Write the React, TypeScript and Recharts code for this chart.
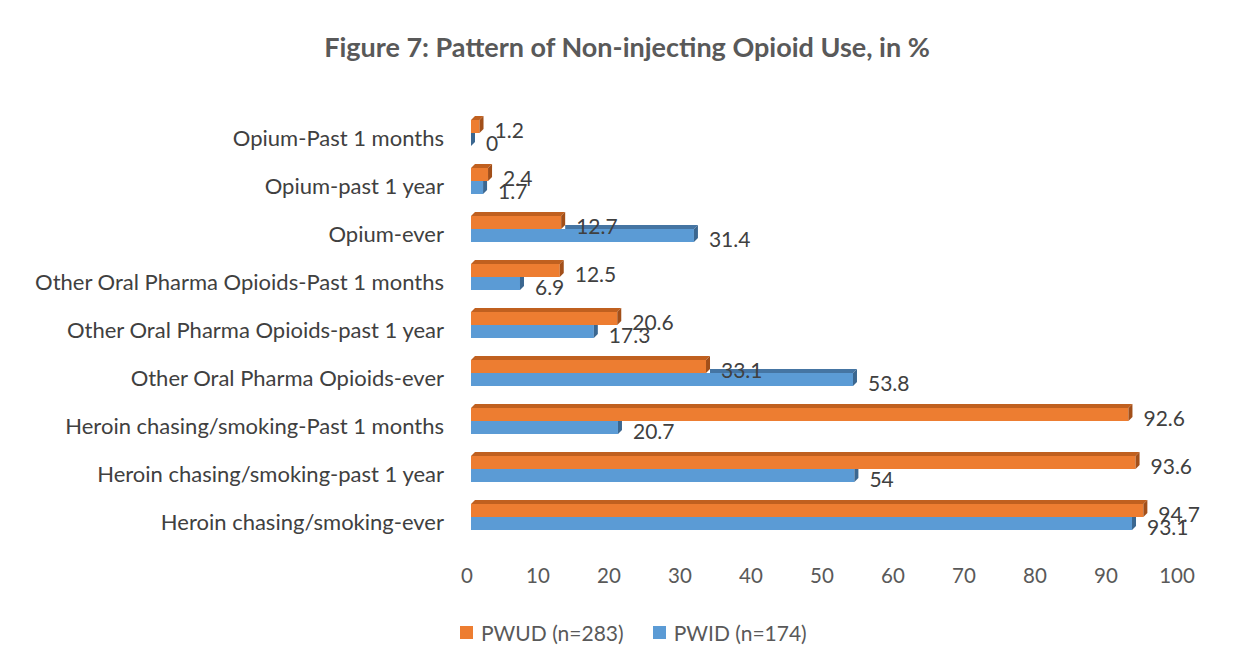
import { BarChart, Bar, XAxis, YAxis, Legend, LabelList } from 'recharts'

const categories = [
  'Opium-Past 1 months',
  'Opium-past 1 year',
  'Opium-ever',
  'Other Oral Pharma Opioids-Past 1 months',
  'Other Oral Pharma Opioids-past 1 year',
  'Other Oral Pharma Opioids-ever',
  'Heroin chasing/smoking-Past 1 months',
  'Heroin chasing/smoking-past 1 year',
  'Heroin chasing/smoking-ever'
]
const pwud = [1.2, 2.4, 12.7, 12.5, 20.6, 33.1, 92.6, 93.6, 94.7]
const pwid = [0, 1.7, 31.4, 6.9, 17.3, 53.8, 20.7, 54, 93.1]
const xTicks = [0, 10, 20, 30, 40, 50, 60, 70, 80, 90, 100]
const seriesNames = ['PWUD (n=283)', 'PWID (n=174)']

const data = categories.map((name, i) => ({ name, pwud: pwud[i], pwid: pwid[i] }))

const FONT = 'Lato, "Open Sans", sans-serif'
const D = 4
const ORANGE = '#ED7D31'
const BLUE = '#5B9BD5'

// front face + top face + right side, like the excel 3d bar
const OrangeBar = (props: any) => {
  const { x, y, width, height } = props
  return (
    <g>
      <rect x={x} y={y} width={width} height={height} fill={ORANGE} />
      <polygon
        points={`${x},${y} ${x + D},${y - D} ${x + width + D},${y - D} ${x + width},${y}`}
        fill="#c0601f"
      />
      <polygon
        points={`${x + width},${y} ${x + width + D},${y - D} ${x + width + D},${y + height - D} ${x + width},${y + height}`}
        fill="#a24f19"
      />
    </g>
  )
}

// blue sits behind the orange one, so only draw the parts that stick out
const BlueBar = (props: any) => {
  const { x, y, width, height, payload } = props
  const value = payload.pwid
  const other = payload.pwud
  const ppu = value > 0 ? width / value : 0
  const otherEnd = x + other * ppu + D
  const longer = value > other
  const side = longer
    ? `${x + width},${y} ${x + width + D},${y - D} ${x + width + D},${y + height - D} ${x + width},${y + height}`
    : `${x + width},${y} ${x + width + D},${y} ${x + width + D},${y + height - D} ${x + width},${y + height}`
  return (
    <g>
      <rect x={x} y={y} width={width} height={height} fill={BLUE} />
      {longer && otherEnd < x + width && (
        <polygon
          points={`${otherEnd},${y} ${otherEnd},${y - D} ${x + width + D},${y - D} ${x + width},${y}`}
          fill="#4575a3"
        />
      )}
      <polygon points={side} fill="#3b6790" />
    </g>
  )
}

const renderLabel = (props: any) => {
  const { x, y, width, height, value } = props
  return (
    <text
      x={x + width + 15}
      y={y + height / 2 + 3}
      textAnchor="start"
      dominantBaseline="central"
      fontFamily={FONT}
      fontSize={21}
      fill="#404040"
    >
      {value}
    </text>
  )
}

const CategoryTick = (props: any) => {
  const { x, y, payload } = props
  return (
    <text x={x} y={y + 4} textAnchor="end" dominantBaseline="central" fontFamily={FONT} fontSize={22} fill="#404040">
      {payload.value}
    </text>
  )
}

const ValueTick = (props: any) => {
  const { x, y, payload } = props
  return (
    <text x={x - 4} y={y} textAnchor="middle" dominantBaseline="central" fontFamily={FONT} fontSize={20.5} fill="#595959">
      {payload.value}
    </text>
  )
}

const LegendContent = () => {
  const colors = [ORANGE, BLUE]
  return (
    <div style={{ display: 'flex', alignItems: 'center', height: 30, fontFamily: FONT, fontSize: 21, color: '#595959' }}>
      {seriesNames.map((n, i) => (
        <div key={n} style={{ display: 'flex', alignItems: 'center', marginRight: 29 }}>
          <span style={{ width: 13, height: 13, background: colors[i], marginRight: 8, display: 'inline-block' }} />
          <span>{n}</span>
        </div>
      ))}
    </div>
  )
}

export default function App() {
  return (
    <div style={{ position: 'relative', width: 1240, height: 661, marginLeft: -2, marginTop: -1, background: '#fff' }}>
      <div
        style={{
          position: 'absolute',
          top: 24,
          left: 0,
          width: 1242,
          lineHeight: '32px',
          textAlign: 'center',
          fontFamily: FONT,
          fontWeight: 'bold',
          fontSize: 27,
          color: '#595959'
        }}
      >
        Figure 7: Pattern of Non-injecting Opioid Use, in %
      </div>
      <BarChart
        width={1240}
        height={661}
        data={data}
        layout="vertical"
        margin={{ top: 102, right: 65, bottom: 21, left: 0 }}
        barSize={13}
        barGap={0}
      >
        <XAxis
          type="number"
          domain={[0, 100]}
          ticks={xTicks}
          axisLine={false}
          tickLine={false}
          tickSize={0}
          tickMargin={34}
          height={76}
          tick={<ValueTick />}
          interval={0}
        />
        <YAxis
          type="category"
          dataKey="name"
          width={465}
          axisLine={false}
          tickLine={false}
          tickSize={6}
          tickMargin={21}
          tick={<CategoryTick />}
          interval={0}
        />
        <Legend
          verticalAlign="bottom"
          content={<LegendContent />}
          wrapperStyle={{ left: 454, width: 420, height: 30 }}
        />
        <Bar dataKey="pwud" name={seriesNames[0]} fill={ORANGE} shape={<OrangeBar />} isAnimationActive={false}>
          <LabelList dataKey="pwud" content={renderLabel} />
        </Bar>
        <Bar dataKey="pwid" name={seriesNames[1]} fill={BLUE} shape={<BlueBar />} isAnimationActive={false}>
          <LabelList dataKey="pwid" content={renderLabel} />
        </Bar>
      </BarChart>
      <div
        style={{
          position: 'absolute',
          inset: 0,
          border: '1px solid #d9d9d9',
          boxSizing: 'border-box',
          pointerEvents: 'none'
        }}
      />
    </div>
  )
}
